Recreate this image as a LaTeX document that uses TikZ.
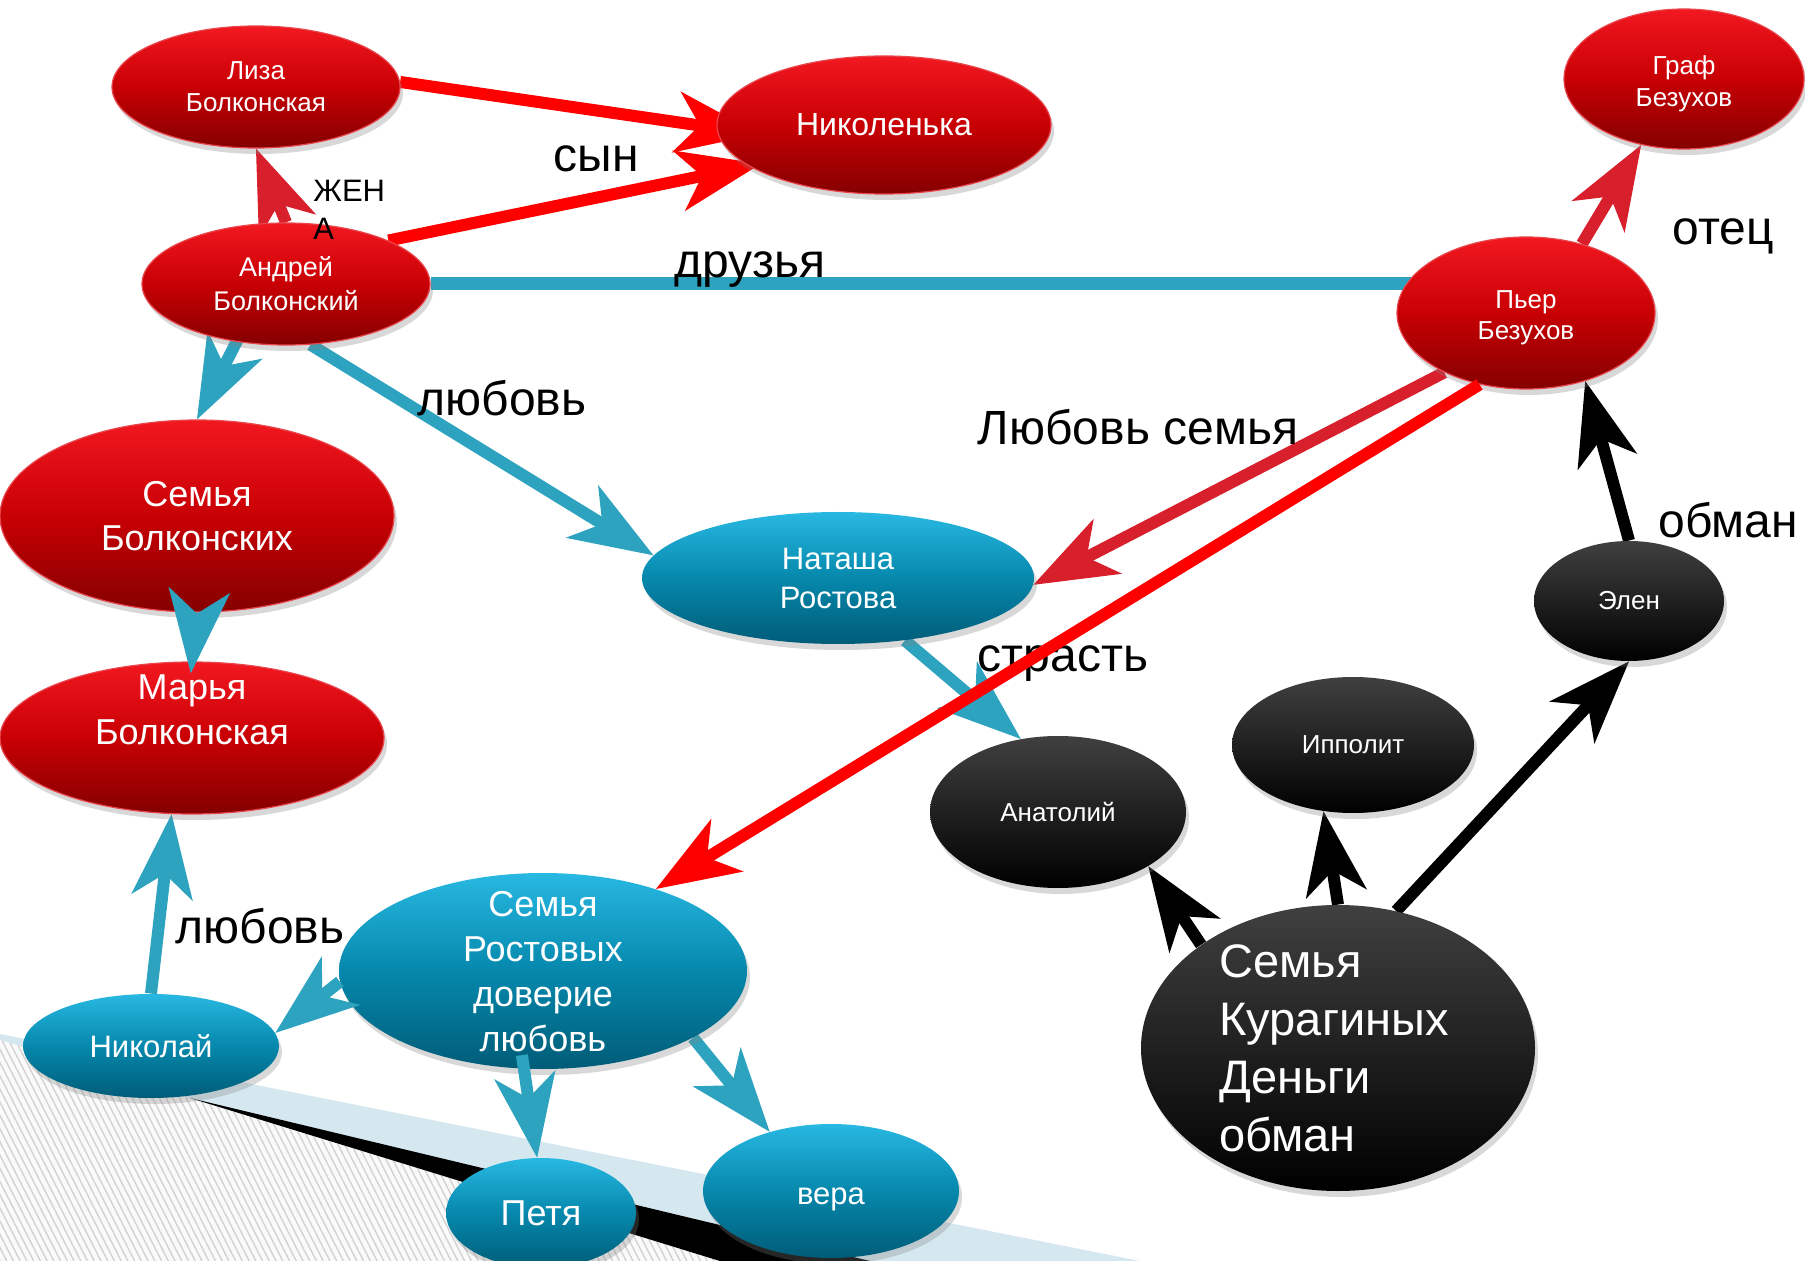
\documentclass[tikz,border=0pt]{standalone}
\usepackage{fontspec}
\setmainfont{Liberation Sans}
\usetikzlibrary{shapes.geometric,arrows.meta,shadows,patterns.meta}

\definecolor{ballred}{RGB}{242,24,32}
\definecolor{ballmid}{RGB}{200,0,4}
\definecolor{balldark}{RGB}{132,0,0}
\definecolor{rimred}{RGB}{232,70,76}
\definecolor{tealtop}{RGB}{40,184,226}
\definecolor{tealmid}{RGB}{6,136,172}
\definecolor{tealbot}{RGB}{0,92,120}
\definecolor{greytop}{RGB}{64,64,64}
\definecolor{arrteal}{RGB}{46,163,191}
\definecolor{arrcrim}{RGB}{216,32,44}
\definecolor{stripe}{RGB}{213,232,240}

\pgfdeclarelayer{deco}
\pgfdeclarelayer{background}
\pgfsetlayers{deco,background,main}

\tikzset{
  ball/.style={ellipse, inner sep=0pt, align=center, text=white,
    drop shadow={shadow xshift=1.5pt, shadow yshift=-3pt, opacity=0.3}},
  redball/.style={ball, top color=ballred, bottom color=balldark, middle color=ballmid,
    draw=rimred, line width=0.6pt},
  blueball/.style={ball, top color=tealtop, bottom color=tealbot, middle color=tealmid},
  blackball/.style={ball, top color=greytop, bottom color=black},
  txt/.style={text=white, align=center, inner sep=0pt},
  lbl/.style={font=\fontsize{24}{29}\selectfont, inner sep=0pt},
  arr/.style={line width=6pt, -{Stealth[length=42pt,width=31pt,inset=12pt,line width=0pt]}},
  redarr/.style={arr, red},
  crimarr/.style={arr, arrcrim},
  tealarr/.style={arr, arrteal},
  blackarr/.style={arr, black},
  friendline/.style={line width=6.5pt, arrteal}
}

\begin{document}
\begin{tikzpicture}[x=0.5pt,y=-0.5pt]

\useasboundingbox (0,0) rectangle (1805,1261);

% slide decoration, bottom left
\begin{pgfonlayer}{deco}
\fill[white] (0,0) rectangle (1805,1261);
\fill[stripe] (0,1034) -- (1140,1261) -- (0,1261) -- cycle;
\fill[black!2] (0,1040) -- (720,1261) -- (0,1261) -- cycle;
\fill[pattern={Lines[angle=-63,distance=3pt,line width=0.7pt]}, pattern color=gray!35]
  (0,1040) -- (720,1261) -- (0,1261) -- cycle;
\fill[black] (190,1098) -- (870,1261) -- (720,1261) -- cycle;
\end{pgfonlayer}

% Bolkonsky family
\node[redball, minimum width=144pt, minimum height=61pt, font=\fontsize{13}{16}\selectfont] (lisa) at (256,87) {Лиза\\Болконская};
\node[redball, minimum width=167pt, minimum height=69pt, font=\fontsize{16}{19}\selectfont] (nikolenka) at (884,125) {Николенька};
\node[redball, minimum width=144pt, minimum height=61pt, font=\fontsize{13.5}{17}\selectfont] (andrey) at (286,284) {Андрей\\Болконский};
\node[redball, minimum width=197pt, minimum height=96pt, font=\fontsize{18}{22}\selectfont] (bolkonsky) at (197,516) {Семья\\Болконских};
\node[redball, minimum width=192pt, minimum height=76pt] (marya) at (192,738) {};
\node[txt, font=\fontsize{18}{22.5}\selectfont] (marya-t) at (192,710) {Марья\\Болконская};

% Bezukhov
\node[redball, minimum width=120pt, minimum height=70pt] (graf) at (1684,79) {};
\node[txt, font=\fontsize{13}{16}\selectfont] (graf-t) at (1684,84) {Граф\\Безухов};
\node[redball, minimum width=129pt, minimum height=76pt] (pierre) at (1526,313) {};
\node[txt, font=\fontsize{13}{15.5}\selectfont] (pierre-t) at (1526,318) {Пьер\\Безухов};

% Rostov family
\node[blueball, minimum width=196pt, minimum height=66pt, font=\fontsize{15.5}{19.5}\selectfont] (natasha) at (838,578) {Наташа\\Ростова};
\node[blueball, minimum width=204pt, minimum height=98pt] (rostov) at (543,971) {};
\node[txt, font=\fontsize{18}{22.5}\selectfont] (rostov-t) at (543,972) {Семья\\Ростовых\\доверие\\любовь};
\node[blueball, minimum width=128pt, minimum height=52pt, font=\fontsize{15.5}{19}\selectfont] (nikolai) at (151,1046) {Николай};
\node[blueball, minimum width=95pt, minimum height=55pt, font=\fontsize{18}{22}\selectfont] (petya) at (541,1213) {Петя};
\node[blueball, minimum width=128pt, minimum height=67pt] (vera) at (831,1191) {};
\node[txt, font=\fontsize{15.5}{19}\selectfont] (vera-t) at (831,1199) {вера};

% Kuragin family
\node[blackball, minimum width=95pt, minimum height=60pt, font=\fontsize{13}{16}\selectfont] (elen) at (1629,601) {Элен};
\node[blackball, minimum width=128pt, minimum height=76pt, font=\fontsize{13}{16}\selectfont] (anatoly) at (1058,812) {Анатолий};
\node[blackball, minimum width=121pt, minimum height=68pt, font=\fontsize{13}{16}\selectfont] (ippolit) at (1353,745) {Ипполит};
\node[blackball, minimum width=197pt, minimum height=143pt] (kuragin) at (1338,1048) {};
\node[txt, align=left, font=\fontsize{23.5}{29}\selectfont] (kuragin-t) at (1334,1048) {Семья\\Курагиных\\Деньги\\обман};

% labels
\node[lbl, font=\fontsize{15.5}{19}\selectfont, align=left, anchor=north west] (wife) at (313,180) {ЖЕН\\А};
\node[lbl] (son) at (596,159) {сын};
\node[lbl] (friends) at (750,270) {друзья};
\node[lbl] (love1) at (502,398) {любовь};
\node[lbl] (famlove) at (1138,427) {Любовь семья};
\node[lbl] (father) at (1723,236) {отец};
\node[lbl] (deceit) at (1728,520) {обман};
\node[lbl] (passion) at (1063,664) {страсть};
\node[lbl] (love2) at (260,926) {любовь};

% arrows behind the balls
\begin{pgfonlayer}{background}
\draw[redarr, shorten >=-21.5pt] (lisa.2) -- (nikolenka.181);
\draw[redarr, shorten >=-6pt] (andrey.23) -- (nikolenka.197);
\draw[crimarr] (andrey.north) -- (lisa.south);
\draw[friendline] (andrey.east) -- (andrey -| pierre);
\draw[crimarr] (pierre.51) -- (graf.237);
\draw[crimarr] (pierre.216) -- (natasha.358);
\draw[blackarr] (elen.north) -- (pierre.311);
\draw[tealarr] ([xshift=-10pt]andrey.center) -- (bolkonsky.north);
\draw[tealarr] (andrey.292) -- (natasha.173);
\draw[tealarr] (nikolai.north) -- (marya.255);
\draw[tealarr] (natasha.317) -- (anatoly.117);
\draw[tealarr] (rostov.336) -- (vera.136);
\draw[blackarr] (kuragin.143) -- (anatoly.329);
\draw[blackarr] (kuragin.north) -- (ippolit.246);
\draw[blackarr] (kuragin.67) -- (elen.south);
\end{pgfonlayer}

% arrows on top
\draw[redarr] (pierre.237) -- (rostov.36);
\draw[tealarr, shorten >=-6pt] (bolkonsky.south) -- (marya.north);
\draw[tealarr] (rostov.183) -- (nikolai.6);
\draw[tealarr, shorten <=-7pt] (rostov.259) -- (petya.94);

\end{tikzpicture}
\end{document}
